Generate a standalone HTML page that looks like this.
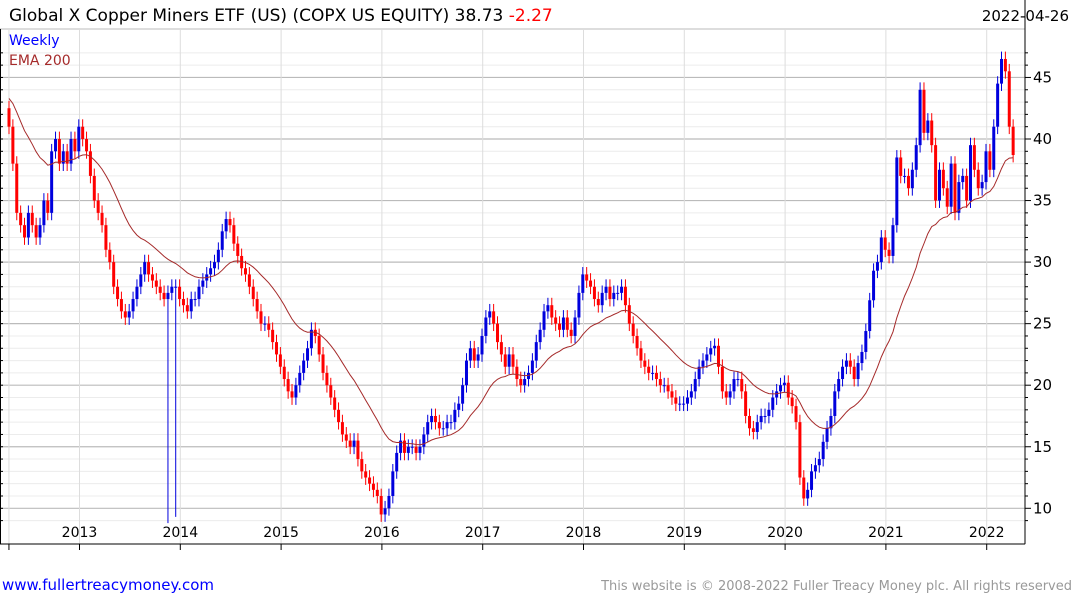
<!DOCTYPE html>
<html><head><meta charset="utf-8"><style>
html,body{margin:0;padding:0;background:#fff;}
body{width:1075px;height:600px;overflow:hidden;font-family:"DejaVu Sans","Liberation Sans",sans-serif;}
</style></head><body>
<svg id="chart" width="1075" height="600" xmlns="http://www.w3.org/2000/svg">
<text x="9" y="21" font-size="17" fill="#000">Global X Copper Miners ETF (US) (COPX US EQUITY) 38.73 <tspan fill="#ff0000">-2.27</tspan></text>
<text x="1069" y="21" font-size="15" fill="#000" text-anchor="end">2022-04-26</text>
<g id="grid"></g>
<g id="bars"></g>
<path id="ema" fill="none" stroke="#a52a2a" stroke-width="1"/>
<g id="axes"></g>
<text x="9" y="45" font-size="14" fill="#0000ff">Weekly</text>
<text x="9" y="65" font-size="14" fill="#a52a2a">EMA 200</text>
<text x="2" y="590" font-size="15" fill="#0000ff">www.fullertreacymoney.com</text>
<text x="1072" y="590" font-size="13" fill="#999" text-anchor="end">This website is © 2008-2022 Fuller Treacy Money plc. All rights reserved</text>
</svg>
<script>
// Biweekly closes, starting ~2012.30
const closes = [
41,38,34,33,32,34,33,32,33,35,34,39,40,38,39,38,40,39,
41,40,39,37,35,34,33,31,30,28,27,26,25.5,26,27,28,29,30,29,28.5,28,27.5,27,27.5,28,28,
27,26.5,26,27,27,28,28.5,29,29.5,30,31,32.5,33.5,33,31.5,30.5,29.5,29,28,27,26,25,25,24.5,23.5,22.5,
21.5,20.5,19.5,19,20,21,22,23,24.5,24,22.5,21,20,19,18,17,16,15.5,15,15.5,14,13,12.5,12,11.5,11,
9.5,10,11,13,14.5,15.5,14.5,15,15,14.5,15,16,17,17.5,17,16.5,16.5,17,17,18,18.5,20,22,23,22,22.5,
24,25.5,26,25,23.5,22.5,21.5,22.5,21.5,20.5,20,20.5,21,22,23.5,24.5,26,26.5,25.5,25,24.5,25.5,24.5,24,25.5,27.5,
29,28.5,28,27,26.5,27.5,28,27,27.5,27.5,28,26.5,25,24,23,22,21.5,21,21,20.5,20,20,19.5,19,18.5,18.5,
18.5,19,19.5,20.5,21.5,22,22.5,23,23.2,21.5,19.5,19,19.5,20.5,20.5,19.5,17.5,16.5,16.2,17,17.5,17.5,18,19,19.5,20,
20.2,19,18.3,17,12.5,10.8,11.5,13,13.5,14,15.4,16.5,17.5,19.5,20.5,21.5,22,21.5,20.5,21.8,22.7,24.4,26.9,29.3,30,32,
31,30.5,33,38.5,37,37,36,37.5,39.5,44,40.5,41.5,39.5,35,37.5,36,34.5,38,34,36.5,37,35,39.5,37.5,36,36.5,
39,37.5,41,44.5,46.5,45.5,41,38.7
];
const spikeIdx = [41, 43];
const spikeLow = [8.8, 9.3];
const yTicks = [10,15,20,25,30,35,40,45];
const years = [2013,2014,2015,2016,2017,2018,2019,2020,2021,2022];
const emaSeed = 43.5;
const emaPeriod = 24;

const NS="http://www.w3.org/2000/svg";
const Y=v=>508.3-(v-10)*12.31;
const X=i=>9+i*3.877;
const XY=yr=>79.5+(yr-2013)*100.8;
function mk(tag,attrs,parent){const e=document.createElementNS(NS,tag);for(const k in attrs)e.setAttribute(k,attrs[k]);parent.appendChild(e);return e;}
const grid=document.getElementById('grid'),bars=document.getElementById('bars'),axes=document.getElementById('axes');
mk('rect',{x:0,y:29,width:1025,height:515,fill:'none',stroke:'#bbb'},grid);
for(let v=9;v<=47;v++){const major=v%5===0;
 const l=mk('line',{x1:0,x2:1025,y1:Y(v),y2:Y(v),stroke:major?'#bbb':'#ececec','stroke-width':major?1.2:1},grid);
 
 
 mk('line',{x1:1025,x2:major?1031:1028,y1:Y(v),y2:Y(v),stroke:'#000'},axes);
 mk('line',{x1:0,x2:3,y1:Y(v),y2:Y(v),stroke:'#000'},axes);
}
mk('line',{x1:XY(2012.3),x2:XY(2012.3),y1:29,y2:544,stroke:'#ddd'},grid);
mk('line',{x1:XY(2012.3),x2:XY(2012.3),y1:544,y2:550,stroke:'#000'},axes);
years.forEach(yr=>{const x=XY(yr);
 const l=mk('line',{x1:x,x2:x,y1:29,y2:544,stroke:'#ddd'},grid);
 
 
 mk('line',{x1:x,x2:x,y1:544,y2:550,stroke:'#000'},axes);
 const t=mk('text',{x:x,y:537,'font-size':14,'text-anchor':'middle',fill:'#000'},axes);t.textContent=yr;
 
 
});
yTicks.forEach(v=>{const t=mk('text',{x:1033,y:Y(v)+5,'font-size':15,fill:'#000'},axes);t.textContent=v;
 
 });
mk('line',{x1:1025,x2:1025,y1:0,y2:544,stroke:'#000'},axes);
mk('line',{x1:0,x2:1025,y1:544,y2:544,stroke:'#000'},axes);
mk('line',{x1:0.5,x2:0.5,y1:29,y2:544,stroke:'#000'},axes);
closes.forEach((c,i)=>{
 const o=i===0?c+1.5:closes[i-1];
 const up=c>=o, col=up?'#0000dd':'#ff0000';
 const hi=Math.max(o,c)+0.6, si=spikeIdx.indexOf(i);
 const lo=si>=0?spikeLow[si]:Math.min(o,c)-0.6;
 const x=X(i);
 const g=mk('g',{},bars);
 
 
 mk('line',{x1:x,x2:x,y1:Y(hi),y2:Y(lo),stroke:col,'stroke-width':1},g);
 mk('rect',{x:x-1.5,y:Y(Math.max(o,c)),width:3,height:Math.max(1,Math.abs(Y(o)-Y(c))),fill:col},g);
});
let e=emaSeed,a=2/(emaPeriod+1),d='';
closes.forEach((c,i)=>{e=e+a*(c-e);d+=(i?'L':'M')+X(i).toFixed(1)+','+Y(e).toFixed(1);});
document.getElementById('ema').setAttribute('d',d);
</script>
</body></html>
